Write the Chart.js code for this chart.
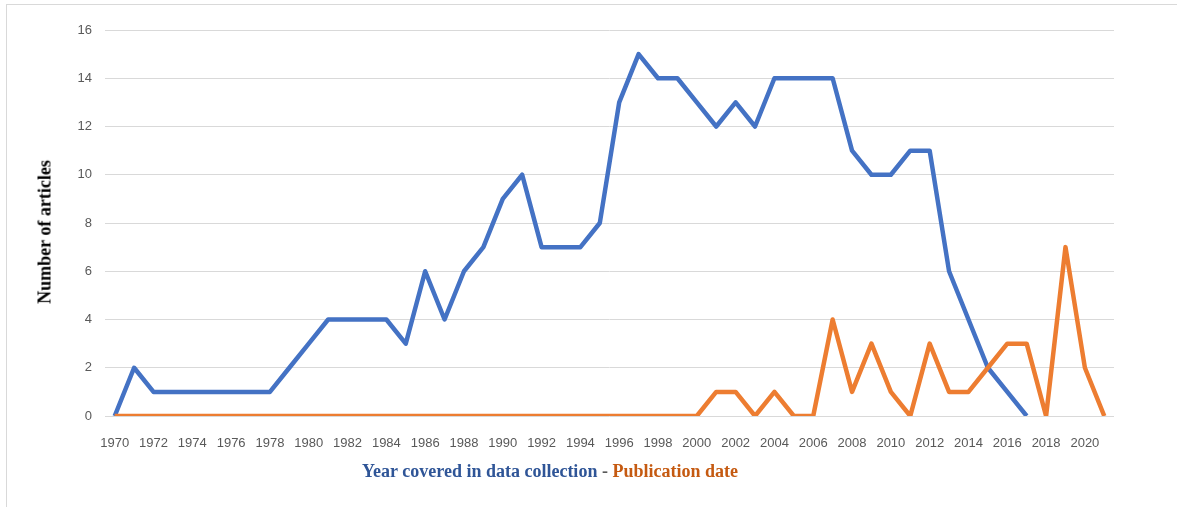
<!DOCTYPE html>
<html>
<head>
<meta charset="utf-8">
<script src="https://cdn.jsdelivr.net/npm/chart.js@4"></script>
<style>
  body { margin: 0; background: #fff; }
  #wrap { position: relative; width: 1177px; height: 507px; overflow: hidden; }
  #frame { position: absolute; left: 6px; top: 4px; width: 1300px; height: 600px; border: 1px solid #d9d9d9; }
  #xtitle { position: absolute; left: 0; top: 461px; width: 1100px; text-align: center;
            font: bold 18px "Liberation Serif", "Times New Roman", serif; }
  #ytitle { position: absolute; left: 45px; top: 232px; transform: translate(-50%, -50%) rotate(-90deg);
            white-space: nowrap; font: bold 18px "Liberation Serif", "Times New Roman", serif; color: #000; }
</style>
</head>
<body>
<div id="wrap">
  <div id="frame"></div>
  <canvas id="myChart" width="1177" height="507" style="position:absolute;left:0;top:0"></canvas>
  <div id="ytitle">Number of articles</div>
  <div id="xtitle"><span style="color:#2F5597">Year covered in data collection</span> <span style="color:#595959">-</span> <span style="color:#C55A11">Publication date</span></div>
</div>
<script>
var years = [];
for (var y = 1970; y <= 2021; y++) years.push(String(y));

// Year covered in data collection (1970-2017)
var coveredYears = [0, 2, 1, 1, 1, 1, 1, 1, 1, 2,
                    3, 4, 4, 4, 4, 3, 6, 4, 6, 7,
                    9, 10, 7, 7, 7, 8, 13, 15, 14, 14,
                    13, 12, 13, 12, 14, 14, 14, 14, 11, 10,
                    10, 11, 11, 6, 4, 2, 1, 0];

// Publication date (1970-2021)
var publicationDate = [0, 0, 0, 0, 0, 0, 0, 0, 0, 0,
                       0, 0, 0, 0, 0, 0, 0, 0, 0, 0,
                       0, 0, 0, 0, 0, 0, 0, 0, 0, 0,
                       0, 1, 1, 0, 1, 0, 0, 4, 1, 3,
                       1, 0, 3, 1, 1, 2, 3, 3, 0, 7,
                       2, 0];

var ctx = document.getElementById('myChart');
var tickFont = { family: "'Liberation Sans', Arial, sans-serif", size: 13 };

var myChart = new Chart(ctx, {
    type: 'line',
    data: {
        labels: years,
        datasets: [
            {
                label: 'Year covered in data collection',
                data: coveredYears,
                borderColor: '#4472C4',
                borderWidth: 4.5,
                borderJoinStyle: 'round',
                pointRadius: 0,
                tension: 0,
                order: 1
            },
            {
                label: 'Publication date',
                data: publicationDate,
                borderColor: '#ED7D31',
                borderWidth: 4.5,
                borderJoinStyle: 'round',
                pointRadius: 0,
                tension: 0,
                order: 0
            }
        ]
    },
    options: {
        responsive: false,
        animation: false,
        layout: { padding: { top: 30, right: 63, bottom: 0, left: 0 } },
        plugins: {
            legend: { display: false },
            tooltip: { enabled: false }
        },
        scales: {
            x: {
                offset: true,
                grid: { display: false },
                border: { display: false },
                ticks: {
                    autoSkip: false,
                    maxRotation: 0,
                    padding: 12,
                    color: '#595959',
                    font: tickFont,
                    callback: function (v, i) { return i % 2 === 0 ? this.getLabelForValue(v) : ''; }
                },
                afterFit: function (s) { s.height = 91; }
            },
            y: {
                min: 0,
                max: 16,
                grid: { color: '#d9d9d9', drawTicks: false },
                border: { display: false },
                ticks: { stepSize: 2, padding: 13, color: '#595959', font: tickFont },
                afterFit: function (s) { s.width = 105; }
            }
        }
    }
});
</script>
</body>
</html>
